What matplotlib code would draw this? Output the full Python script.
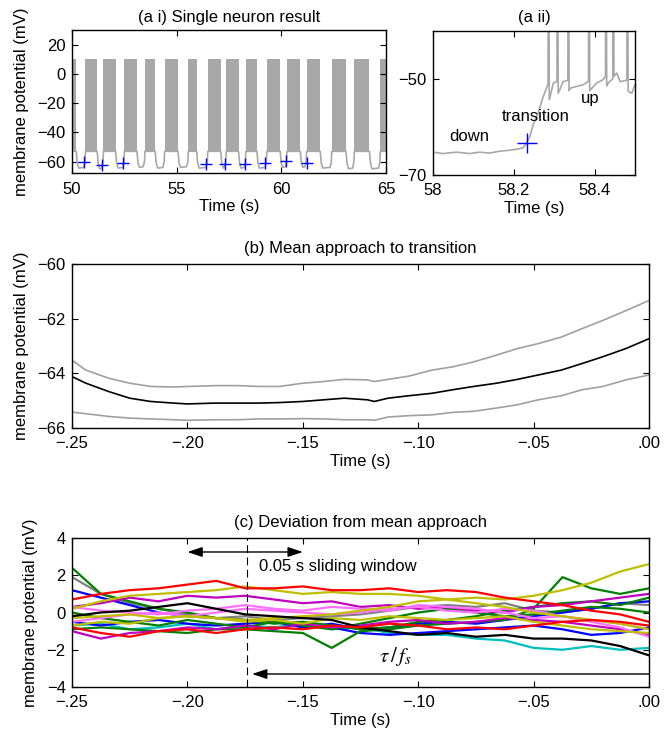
import numpy as np
import matplotlib.pyplot as plt
from matplotlib.ticker import FuncFormatter

plt.rcParams['font.family'] = ['Liberation Sans', 'DejaVu Sans']
plt.rcParams['font.size'] = 12

GRAY = '#a8a8a8'

# ---- (a i) single neuron: bursts (up states) and down-state dips
burst_start = [50.0, 50.64, 51.5, 52.5, 53.48, 54.42, 55.55, 56.48, 57.36, 58.3,
               59.3, 60.26, 61.2, 62.4, 63.48, 64.72]
burst_end = [50.2, 51.2, 52.08, 53.1, 53.97, 55.06, 55.95, 57.1, 57.95, 58.83,
             59.94, 60.9, 61.85, 63.08, 64.2, 65.0]
down_min = [-64.5, -65.0, -64.5, -64.0, -64.5, -64.0, -64.5, -64.5, -64.5, -64.5,
            -64.0, -64.0, -64.5, -65.0, -65.0]
cross_t = [50.55, 51.45, 52.44, 56.4, 57.3, 58.25, 59.22, 60.23, 61.2]
cross_v = [-60.0, -62.3, -61.1, -62.0, -62.0, -61.6, -60.8, -59.4, -61.0]

# ---- (a ii) zoom on one transition
aii_t = [58.0, 58.025, 58.058, 58.091, 58.116, 58.14, 58.165, 58.19, 58.21, 58.223,
         58.231, 58.24, 58.248, 58.26, 58.273, 58.281, 58.285, 58.286, 58.288, 58.298,
         58.307, 58.308, 58.31, 58.314, 58.322, 58.334, 58.335, 58.337, 58.339, 58.355,
         58.372, 58.385, 58.386, 58.388, 58.393, 58.405, 58.421, 58.427, 58.428, 58.43,
         58.434, 58.445, 58.446, 58.448, 58.455, 58.463, 58.48, 58.481, 58.483, 58.486,
         58.492, 58.5]
aii_v = [-65.3, -65.6, -65.3, -65.6, -65.3, -65.5, -65.1, -64.9, -64.65, -64.4,
         -63.5, -62.0, -59.6, -57.2, -53.7, -52.0, -51.0, 10, -54.4, -50.9,
         -50.5, 10, -53.0, -52.3, -50.6, -50.3, 10, -52.5, -52.0, -51.6,
         -51.25, -50.5, 10, -52.5, -52.0, -50.9, -50.2, -49.5, 10, -51.5,
         -50.9, -50.0, 10, -49.5, -48.8, -50.6, -50.3, 10, -52.5, -52.8,
         -53.0, -51.3]

# ---- (b) mean approach
tb = [-0.25, -0.244, -0.234, -0.225, -0.216, -0.206, -0.2, -0.188, -0.178, -0.169,
      -0.16, -0.15, -0.141, -0.132, -0.122, -0.119, -0.113, -0.104, -0.094, -0.085,
      -0.076, -0.066, -0.057, -0.048, -0.038, -0.029, -0.02, -0.01, 0.0]
mean_b = [-64.12, -64.36, -64.67, -64.91, -65.03, -65.09, -65.12, -65.09, -65.09, -65.09,
          -65.07, -65.03, -64.97, -64.91, -64.97, -65.03, -64.91, -64.82, -64.73, -64.6,
          -64.48, -64.36, -64.22, -64.06, -63.88, -63.64, -63.39, -63.09, -62.73]
upper_b = [-63.52, -63.88, -64.18, -64.36, -64.48, -64.5, -64.48, -64.45, -64.45, -64.48,
           -64.48, -64.36, -64.3, -64.22, -64.24, -64.3, -64.22, -64.1, -63.88, -63.76,
           -63.58, -63.33, -63.09, -62.91, -62.67, -62.36, -62.06, -61.7, -61.33]
lower_b = [-65.42, -65.48, -65.58, -65.64, -65.67, -65.7, -65.72, -65.7, -65.7, -65.67,
           -65.67, -65.66, -65.67, -65.7, -65.7, -65.72, -65.6, -65.55, -65.52, -65.43,
           -65.39, -65.27, -65.15, -64.97, -64.82, -64.6, -64.48, -64.24, -64.06]

# ---- (c) deviation from mean approach
tc = [-0.25, -0.2375, -0.225, -0.2125, -0.2, -0.1875, -0.175, -0.1625, -0.15, -0.1375,
      -0.125, -0.1125, -0.1, -0.0875, -0.075, -0.0625, -0.05, -0.0375, -0.025, -0.0125, 0.0]
dev_gray = [1.9, 1.0, 0.5, 0.2, -0.1, -0.3, -0.2, -0.4, -0.3, -0.2, -0.1, 0.1, 0.3, 0.4, 0.3, 0.5, 0.1, 0.0, 0.2, 0.5, 0.4]
dev_cyan = [-0.7, -0.6, -0.9, -0.8, -0.6, -0.9, -0.7, -0.8, -0.6, -0.9, -0.8, -1.1, -1.2, -1.2, -1.4, -1.5, -1.9, -2.0, -1.8, -2.0, -1.9]
dev_blue1 = [1.2, 0.8, 0.4, 0.0, -0.2, -0.3, -0.4, -0.5, -0.7, -0.8, -1.1, -1.2, -1.1, -1.0, -0.9, -0.8, -0.7, -0.9, -1.2, -1.1, -0.8]
dev_blue2 = [-0.5, -0.7, -0.5, -0.4, -0.6, -0.7, -0.6, -0.5, -0.8, -0.6, -0.9, -0.8, -0.6, -0.5, -0.6, -0.4, -0.2, 0.0, 0.2, 0.5, 0.6]
dev_green1 = [2.4, 1.0, 0.6, 0.2, 0.0, -0.3, -0.4, -0.6, -0.5, -0.7, -0.9, -0.8, -0.5, -0.4, -0.2, 0.1, 0.3, 0.5, 0.6, 0.4, 0.8]
dev_green2 = [-0.9, -0.8, -0.9, -1.0, -1.1, -0.9, -0.9, -1.0, -1.1, -1.9, -1.0, -0.9, -0.7, -0.6, -0.5, -0.4, 0.2, 1.9, 1.3, 1.0, 1.3]
dev_green3 = [0.0, -0.3, -0.5, -0.7, -0.4, -0.6, -0.8, -0.5, -0.7, -0.9, -0.6, -0.3, 0.0, 0.2, 0.0, -0.2, -0.1, 0.1, 0.3, 0.2, 0.0]
dev_mag1 = [0.3, 0.5, 0.8, 0.6, 0.9, 0.8, 0.9, 0.7, 0.5, 0.6, 0.3, 0.4, 0.2, 0.3, 0.1, 0.0, 0.3, 0.4, 0.6, 0.8, 1.0]
dev_mag2 = [-1.0, -1.4, -1.1, -1.0, -0.8, -0.9, -0.7, -0.9, -0.6, -0.8, -0.7, -0.5, -0.4, -0.6, -0.5, -0.3, -0.4, -0.5, -0.7, -0.9, -1.2]
dev_pink1 = [0.3, 0.1, 0.0, -0.1, 0.1, 0.2, 0.4, 0.2, 0.1, 0.3, 0.2, 0.1, 0.4, 0.3, 0.2, 0.0, -0.3, -0.2, -0.4, -0.6, -0.9]
dev_pink2 = [-0.5, -0.3, -0.1, 0.0, -0.2, 0.0, 0.2, 0.1, 0.0, -0.1, 0.0, 0.2, 0.3, 0.1, 0.0, 0.2, 0.1, -0.2, -0.5, -0.8, -1.3]
dev_yel1 = [0.2, 0.6, 0.9, 1.0, 1.1, 1.2, 1.4, 1.2, 1.0, 1.1, 1.0, 1.0, 0.9, 0.7, 0.5, 0.3, 0.0, -0.2, -0.4, -0.6, -0.9]
dev_yel2 = [-0.3, -0.2, -0.1, -0.3, -0.2, -0.3, -0.4, -0.3, -0.2, -0.1, 0.1, 0.3, 0.6, 0.7, 0.8, 0.7, 0.9, 1.2, 1.6, 2.2, 2.6]
dev_yel3 = [-0.7, -0.5, -0.6, -0.3, -0.2, -0.3, -0.5, -0.4, -0.6, -0.3, -0.4, -0.2, -0.3, -0.4, -0.3, -0.2, -0.5, -0.7, -0.9, -1.0, -1.1]
dev_black = [-0.2, 0.0, 0.1, 0.3, 0.5, 0.2, -0.1, -0.2, -0.3, -0.4, -0.8, -1.0, -1.2, -1.1, -1.3, -1.2, -1.4, -1.4, -1.5, -1.8, -2.3]
dev_red1 = [0.7, 1.0, 1.2, 1.3, 1.5, 1.7, 1.3, 1.3, 1.4, 1.2, 1.2, 1.3, 1.1, 1.2, 1.1, 0.8, 0.6, 0.4, 0.1, -0.1, -0.5]
dev_red2 = [-0.8, -1.1, -1.3, -1.0, -0.9, -1.1, -0.9, -0.8, -0.9, -0.7, -0.8, -0.6, -0.7, -0.9, -0.8, -0.9, -0.7, -0.5, -0.4, -0.5, -0.7]
window_t = -0.174


def matlab_axes(ax):
    ax.tick_params(direction='in', top=True, right=True, length=4, width=0.8,
                   labelsize=12)
    ax.tick_params(axis='x', pad=6)
    ax.tick_params(axis='y', pad=4.5)
    for sp in ax.spines.values():
        sp.set_linewidth(1.0)


def short_fmt(v, pos):
    s = "%.2f" % v
    s = s.replace("0.", ".", 1)
    return s.replace("-", "\u2212")


fig = plt.figure(figsize=(6.67, 7.34), dpi=100)

# (a i)
ax1 = fig.add_axes([0.108, 0.764, 0.471, 0.195])
tt = [50.0]
vv = [-53.0]
for i in range(len(down_min)):
    s = burst_end[i]
    e = burst_start[i + 1]
    tt += [s, s + 0.05, s + 0.12, e - 0.08, e - 0.02, e]
    vv += [-53.0, -61.0, down_min[i], down_min[i] + 0.5, -60.0, -53.0]
tt.append(65.0)
vv.append(-53.0)
ax1.plot(tt, vv, color=GRAY, lw=1.2)
for s, e in zip(burst_start, burst_end):
    ax1.fill_between([s, e], -53, 10, color=GRAY, lw=0)
ax1.plot(cross_t, cross_v, '+', color='b', ms=8, mew=1)
ax1.set_xlim(50, 65)
ax1.set_ylim(-68, 30)
ax1.set_xticks([50, 55, 60, 65])
ax1.set_yticks([-60, -40, -20, 0, 20])
ax1.set_xlabel("Time (s)", labelpad=2)
ax1.set_ylabel("membrane potential (mV)", labelpad=6)
ax1.set_title("(a i) Single neuron result", fontsize=12, pad=6)
matlab_axes(ax1)

# (a ii)
ax2 = fig.add_axes([0.649, 0.762, 0.303, 0.196])
ax2.plot(aii_t, aii_v, color=GRAY, lw=1.2)
ax2.plot([58.234], [-63.4], '+', color='b', ms=15, mew=1)
ax2.text(58.091, -62.0, "down", ha='center', va='center')
ax2.text(58.255, -57.8, "transition", ha='center', va='center')
ax2.text(58.388, -54.2, "up", ha='center', va='center')
ax2.set_xlim(58, 58.5)
ax2.set_ylim(-70, -40)
ax2.set_xticks([58, 58.2, 58.4])
ax2.set_xticklabels(["58", "58.2", "58.4"])
ax2.set_yticks([-70, -50])
ax2.set_xlabel("Time (s)", labelpad=2)
ax2.set_title("(a ii)", fontsize=12, pad=6)
matlab_axes(ax2)

# (b)
ax3 = fig.add_axes([0.108, 0.417, 0.865, 0.223])
ax3.plot(tb, upper_b, color='#a0a0a0', lw=1.2)
ax3.plot(tb, lower_b, color='#a0a0a0', lw=1.2)
ax3.plot(tb, mean_b, color='k', lw=1.2)
ax3.set_xlim(-0.25, 0)
ax3.set_ylim(-66, -60)
ax3.set_xticks([-0.25, -0.2, -0.15, -0.1, -0.05, 0.0])
ax3.xaxis.set_major_formatter(FuncFormatter(short_fmt))
ax3.set_yticks([-66, -64, -62, -60])
ax3.set_xlabel("Time (s)", labelpad=2)
ax3.set_ylabel("membrane potential (mV)", labelpad=6)
ax3.set_title("(b) Mean approach to transition", fontsize=12, pad=8)
matlab_axes(ax3)

# (c)
ax4 = fig.add_axes([0.108, 0.064, 0.865, 0.203])
traces = [
    (dev_gray, '#808080'), (dev_cyan, '#00bfbf'), (dev_blue1, '#0000ff'),
    (dev_blue2, '#0000ff'), (dev_green1, '#008000'), (dev_green2, '#008000'),
    (dev_green3, '#008000'), (dev_mag1, '#bf00bf'), (dev_mag2, '#bf00bf'),
    (dev_pink1, '#ff70ff'), (dev_pink2, '#ff70ff'), (dev_yel3, '#bfbf00'),
    (dev_yel1, '#bfbf00'), (dev_yel2, '#bfbf00'), (dev_black, '#000000'),
    (dev_red2, '#ff0000'), (dev_red1, '#ff0000'),
]
for y, c in traces:
    ax4.plot(tc, y, color=c, lw=1.6)
ax4.axvline(window_t, color='k', lw=0.8, ls=(0, (7, 4)), zorder=5)
ax4.annotate('', xy=(-0.15, 3.25), xytext=(-0.2, 3.25),
             arrowprops=dict(arrowstyle='<|-|>,head_length=0.6,head_width=0.2',
                             color='k', lw=1, mutation_scale=15,
                             shrinkA=0, shrinkB=0))
ax4.text(-0.169, 2.45, "0.05 s sliding window", ha='left', va='center')
ax4.annotate('', xy=(-0.172, -3.3), xytext=(0.0, -3.3),
             arrowprops=dict(arrowstyle='-|>,head_length=0.6,head_width=0.2',
                             color='k', lw=1, mutation_scale=15,
                             shrinkA=0, shrinkB=0))
ax4.text(-0.11, -2.35, r'$\tau\,/\,f_s$', ha='center', va='center',
         fontsize=15, math_fontfamily='stix')
ax4.set_xlim(-0.25, 0)
ax4.set_ylim(-4, 4)
ax4.set_xticks([-0.25, -0.2, -0.15, -0.1, -0.05, 0.0])
ax4.xaxis.set_major_formatter(FuncFormatter(short_fmt))
ax4.set_yticks([-4, -2, 0, 2, 4])
ax4.set_xlabel("Time (s)", labelpad=2)
ax4.set_ylabel("membrane potential (mV)", labelpad=6)
ax4.set_title("(c) Deviation from mean approach", fontsize=12, pad=8)
matlab_axes(ax4)

fig.savefig("out.png", dpi=100)
